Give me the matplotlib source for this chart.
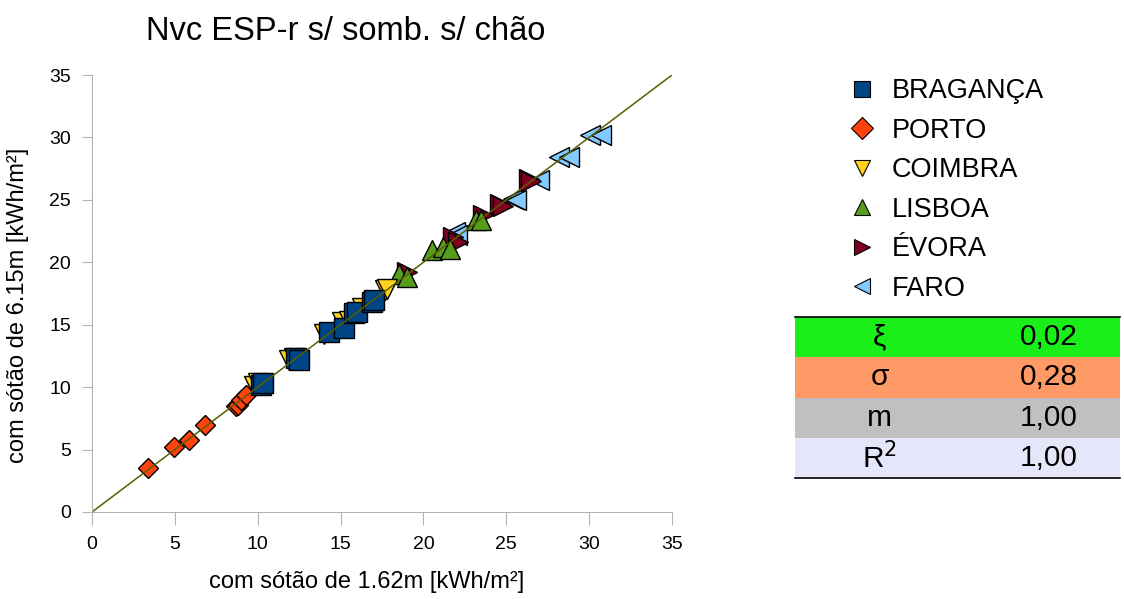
import matplotlib
matplotlib.use("Agg")
import matplotlib.pyplot as plt
from matplotlib.lines import Line2D
from matplotlib.patches import Rectangle

plt.rcParams["font.family"] = ["Liberation Sans", "DejaVu Sans"]

# data
cities = ["BRAGANÇA", "PORTO", "COIMBRA", "LISBOA", "ÉVORA", "FARO"]
braganca_x = [10.2, 10.3, 12.3, 12.5, 14.3, 15.2, 15.8, 16.0, 16.9, 17.0]
braganca_y = [10.2, 10.3, 12.3, 12.2, 14.4, 14.7, 15.9, 16.0, 16.8, 17.0]
porto_x = [3.4, 4.95, 5.85, 6.8, 8.7, 8.8, 9.0, 9.3]
porto_y = [3.5, 5.2, 5.75, 7.0, 8.5, 8.6, 9.0, 9.35]
coimbra_x = [9.8, 10.0, 11.9, 12.2, 14.0, 15.1, 15.5, 16.3, 17.7, 17.8]
coimbra_y = [10.1, 10.3, 12.2, 12.3, 14.25, 15.2, 15.3, 16.3, 17.8, 17.9]
lisboa_x = [18.5, 19.0, 20.5, 21.2, 21.6, 23.2, 23.5]
lisboa_y = [19.1, 18.8, 21.0, 21.2, 21.1, 23.4, 23.4]
evora_x = [19.0, 21.8, 22.1, 23.6, 24.6, 24.8, 26.4, 26.5]
evora_y = [19.2, 22.0, 21.6, 23.8, 24.7, 24.5, 26.7, 26.5]
faro_x = [21.9, 22.0, 25.4, 25.6, 27.0, 28.2, 28.8, 30.05, 30.7]
faro_y = [22.4, 22.2, 25.1, 25.0, 26.6, 28.4, 28.4, 30.2, 30.2]
xs = [braganca_x, porto_x, coimbra_x, lisboa_x, evora_x, faro_x]
ys = [braganca_y, porto_y, coimbra_y, lisboa_y, evora_y, faro_y]

stat_symbols = ["ξ", "σ", "m", "R$^2$"]
stat_values = ["0,02", "0,28", "1,00", "1,00"]

colors = ["#004586", "#ff420e", "#ffd320", "#579d1c", "#7e0021", "#83caff"]
markers = ["s", "D", "v", "^", ">", "<"]
msizes = [14, 10, 15, 15, 15, 15]
stat_colors = ["#1aef1a", "#ff9966", "#c0c0c0", "#e6e6fa"]

fig = plt.figure(figsize=(11.24, 5.99), dpi=100)
ax = fig.add_axes([92 / 1124, 87 / 599, 580 / 1124, 437 / 599])

# drawn in reverse so BRAGANÇA ends up on top
for i in reversed(range(len(cities))):
    ax.plot(xs[i], ys[i], linestyle="none", marker=markers[i], ms=msizes[i],
            mfc=colors[i], mec="black", mew=1)
ax.plot([0, 35], [0, 35], color="#5c5c00", lw=1.1)

ax.set_xlim(0, 35)
ax.set_ylim(0, 35)
ax.set_xticks(range(0, 36, 5))
ax.set_yticks(range(0, 36, 5))
for s in ["top", "right"]:
    ax.spines[s].set_visible(False)
for s in ["left", "bottom"]:
    ax.spines[s].set_color("#b3b3b3")
ax.tick_params(axis="x", direction="out", length=9, color="#b3b3b3", labelsize=14, pad=8)
ax.tick_params(axis="y", direction="out", length=7, color="#b3b3b3", labelsize=14, pad=8)

fig.text(346 / 1124, 1 - 32 / 599, "Nvc ESP-r s/ somb. s/ chão", fontsize=23.5,
         ha="center", va="center")
fig.text(367 / 1124, 1 - 582 / 599, "com sótão de 1.62m [kWh/m²]", fontsize=17,
         ha="center", va="center")
fig.text(18 / 1124, 1 - 305 / 599, "com sótão de 6.15m [kWh/m²]", fontsize=17,
         ha="center", va="center", rotation=90)

handles = [Line2D([], [], linestyle="none", marker=markers[i], ms=11,
                  mfc=colors[i], mec="black", mew=0.8) for i in range(len(cities))]
fig.legend(handles, cities, loc="upper left", bbox_to_anchor=(848 / 1124, 1 - 78 / 599),
           frameon=False, fontsize=19.5, labelspacing=0.5, handlelength=1.0,
           handletextpad=0.6, borderaxespad=0, borderpad=0)

tax = fig.add_axes([795 / 1124, 121 / 599, 325 / 1124, 161 / 599])
tax.set_xlim(0, 1)
tax.set_ylim(len(stat_values), 0)
tax.axis("off")
for i, (sym, val) in enumerate(zip(stat_symbols, stat_values)):
    tax.add_patch(Rectangle((0, i), 1, 1, color=stat_colors[i], lw=0))
    tax.text(0.26, i + 0.5, sym, fontsize=21.5, ha="center", va="center")
    tax.text(0.87, i + 0.5, val, fontsize=21.5, ha="right", va="center")
tax.plot([0, 1], [0, 0], color="black", lw=1.2, clip_on=False)
tax.plot([0, 1], [len(stat_values), len(stat_values)], color="black", lw=1.2, clip_on=False)

fig.savefig("out.png", dpi=100)
